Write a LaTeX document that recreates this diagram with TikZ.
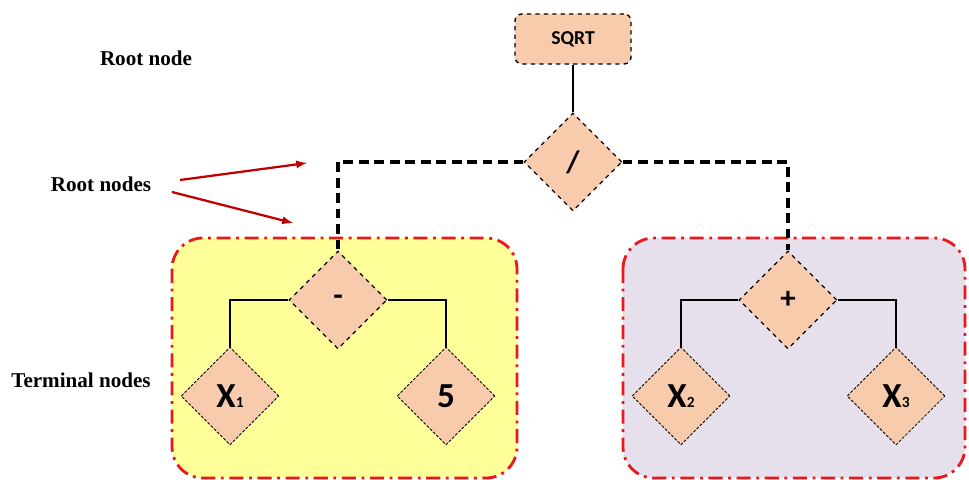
\documentclass[tikz,border=0pt]{standalone}
\usepackage{fontspec}
\setmainfont{Liberation Serif}
\newfontfamily\calibri{Carlito}
\usetikzlibrary{shapes.geometric}

\definecolor{peach}{HTML}{F8CBAD}
\definecolor{paleyellow}{HTML}{FFFF99}
\definecolor{lavender}{HTML}{E6E0EC}
\definecolor{boxred}{HTML}{E8181C}
\definecolor{arrowred}{HTML}{C00000}

\newcommand{\idx}[1]{{\fontsize{11}{11}\selectfont #1}}

\tikzset{
  opnode/.style={diamond,aspect=1,draw,fill=peach,inner sep=0pt,
    minimum width=2.45cm,minimum height=2.45cm,dashed,line width=0.8pt,
    font=\calibri\bfseries\fontsize{22}{22}\selectfont},
  leafnode/.style={opnode,dash pattern=on 2pt off 1.2pt,line width=0.6pt,
    font=\calibri\bfseries\fontsize{25}{25}\selectfont},
  rootbox/.style={draw,rounded corners=5pt,fill=peach,dashed,line width=1pt,
    minimum width=2.9cm,minimum height=1.25cm,
    font=\calibri\bfseries\fontsize{14}{14}\selectfont},
  subtree/.style={draw=boxred,line width=2pt,rounded corners=22pt,
    dash pattern=on 10pt off 4pt on 2pt off 4pt},
  link/.style={line width=1pt},
  dashlink/.style={line width=2.2pt,dash pattern=on 7pt off 4pt},
  note/.style={font=\bfseries\fontsize{15}{17}\selectfont},
  pointer/.style={arrowred,line width=1.6pt,-latex}
}

\begin{document}
\begin{tikzpicture}[x=0.025cm,y=-0.025cm]
	\useasboundingbox (0,0) rectangle (969,480);

	%subtree boxes
	\draw[subtree,fill=paleyellow] (172,238) rectangle (517,478);
	\draw[subtree,fill=lavender] (623,238) rectangle (965,478);

	%labels on the left
	\node[note] (rootlabel) at (146,58) {Root node};
	\node[note] (rootslabel) at (101,184) {Root nodes};
	\node[note] (termlabel) at (81,380) {Terminal nodes};

	%tree nodes
	\node[rootbox] (sqrt) at (573,39) {SQRT};
	\node[opnode] (div) at (573,162) {/};
	\node[opnode] (minus) at (338,300) {-};
	\node[opnode] (plus) at (788,300) {+};
	\node[leafnode] (xa) at (230,396) {X\idx{1}};
	\node[leafnode] (five) at (446,396) {5};
	\node[leafnode] (xb) at (681,396) {X\idx{2}};
	\node[leafnode] (xc) at (896,396) {X\idx{3}};

	%connectors
	\draw[link] (sqrt) -- (div);
	\draw[dashlink] (div.west) -| (minus.north);
	\draw[dashlink] (div.east) -| (plus.north);
	\draw[link] (minus.west) -| (xa.north);
	\draw[link] (minus.east) -| (five.north);
	\draw[link] (plus.west) -| (xb.north);
	\draw[link] (plus.east) -| (xc.north);

	%arrows
	\coordinate (upstart) at (180,180);
	\coordinate (uptip) at (307,163);
	\coordinate (downstart) at (172,192);
	\coordinate (downtip) at (293,223);
	\draw[pointer] (upstart) -- (uptip);
	\draw[pointer] (downstart) -- (downtip);
\end{tikzpicture}
\end{document}
